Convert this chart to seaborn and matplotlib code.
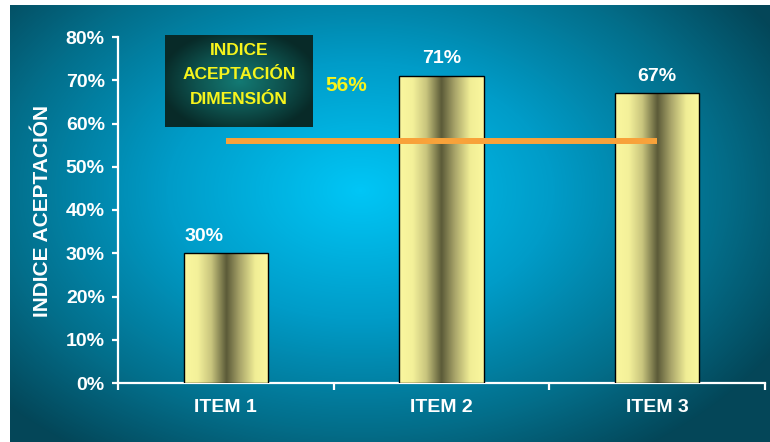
import numpy as np
import pandas as pd
import matplotlib
matplotlib.use("Agg")
import matplotlib.pyplot as plt
from matplotlib.colors import LinearSegmentedColormap
from matplotlib.ticker import FixedLocator, PercentFormatter
import seaborn as sns

# ---- data ----
items = ["ITEM 1", "ITEM 2", "ITEM 3"]
acceptance = [0.30, 0.71, 0.67]
dimension_index = 0.56
y_ticks = [0.0, 0.1, 0.2, 0.3, 0.4, 0.5, 0.6, 0.7, 0.8]
box_lines = ["INDICE", "ACEPTACIÓN", "DIMENSIÓN"]
y_title = "INDICE ACEPTACIÓN"

sns.set_theme(style="ticks")
plt.rcParams["font.family"] = ["Liberation Sans", "DejaVu Sans"]

W, H = 770, 442
fig = plt.figure(figsize=(W / 100, H / 100), dpi=100, facecolor="white")

# ---- radial background panel ----
bg = fig.add_axes([10 / W, 0, 760 / W, 437 / H], zorder=0)
bg.set_axis_off()
yy, xx = np.mgrid[0:437, 0:760]
cx, cy = 350, 185
r = np.sqrt(((xx - cx) / 480.0) ** 2 + ((yy - cy) / 320.0) ** 2)
r = np.clip(r, 0, 1)
bg_cmap = LinearSegmentedColormap.from_list(
    "bg", [(0, "#00C6F6"), (0.4, "#009CC8"), (0.75, "#036E8A"), (1, "#044658")])
bg.imshow(r, cmap=bg_cmap, vmin=0, vmax=1, aspect="auto", interpolation="bilinear")

# ---- main axes ----
ax = fig.add_axes([118 / W, 59 / H, 647 / W, 346 / H], zorder=2)
ax.patch.set_alpha(0)

df = pd.DataFrame({"item": items, "acceptance": acceptance})
sns.barplot(data=df, x="item", y="acceptance", ax=ax, width=0.39,
            color="#F5F29A", saturation=1, edgecolor="black", linewidth=1.0,
            zorder=3)

# cylindrical shading inside each bar
bar_cmap = LinearSegmentedColormap.from_list(
    "bar", [(0, "#FAF79E"), (0.16, "#F4F19A"), (0.32, "#C9C57E"),
            (0.5, "#5B5A38"), (0.66, "#A9A56A"), (0.84, "#F1EE96"), (1, "#FAF79E")])
grad = np.linspace(0, 1, 256).reshape(1, -1)
for patch in ax.patches:
    x0, y0 = patch.get_x(), patch.get_y()
    w, h = patch.get_width(), patch.get_height()
    im = ax.imshow(grad, cmap=bar_cmap, aspect="auto", interpolation="bilinear",
                   extent=(x0, x0 + w, y0, y0 + h), zorder=3)
    im.set_clip_path(patch)
    patch.set_facecolor("none")
    patch.set_zorder(4)

# dimension index line across the items
ax.plot(range(len(items)), [dimension_index] * len(items), color="#F8A23A",
        lw=4.3, solid_capstyle="butt", zorder=6)

# value labels
label_dx = [-16, 0, 0]
for i, v in enumerate(acceptance):
    ax.annotate(f"{v:.0%}", (i, v), xytext=(label_dx[i], 9),
                textcoords="offset points", ha="center", va="baseline",
                color="white", fontweight="bold", fontsize=14, zorder=7)

ax.set_xlim(-0.5, len(items) - 0.5)
ax.set_ylim(0, 0.8)
ax.yaxis.set_major_locator(FixedLocator(y_ticks))
ax.yaxis.set_major_formatter(PercentFormatter(1.0, decimals=0))
ax.xaxis.set_minor_locator(FixedLocator(np.arange(-0.5, len(items), 1.0)))
ax.set_xlabel("")
ax.set_ylabel("")

for side in ("top", "right"):
    ax.spines[side].set_visible(False)
for side in ("left", "bottom"):
    ax.spines[side].set_color("white")
    ax.spines[side].set_linewidth(1.6)

ax.tick_params(axis="y", direction="out", length=4.5, width=1.6, pad=5,
               colors="white", labelsize=14)
ax.tick_params(axis="x", which="major", length=0, pad=11.5,
               colors="white", labelsize=14)
ax.tick_params(axis="x", which="minor", direction="out", length=5, width=1.6,
               colors="white")
for lab in ax.get_xticklabels() + ax.get_yticklabels():
    lab.set_fontweight("bold")
    lab.set_color("white")

fig.text(43 / W, 1 - 211 / H, y_title, rotation=90, ha="center", va="center",
         color="white", fontweight="bold", fontsize=15)

# ---- legend box for the dimension index ----
bx = fig.add_axes([165 / W, (H - 127) / H, 148 / W, 92 / H], zorder=5)
bx.set_axis_off()
by, bxx = np.mgrid[0:92, 0:148]
rb = np.sqrt(((bxx - 74) / 80.0) ** 2 + ((by - 46) / 52.0) ** 2)
rb = np.clip(rb, 0, 1)
box_cmap = LinearSegmentedColormap.from_list(
    "box", [(0, "#137A74"), (0.55, "#0E524E"), (1, "#082A28")])
bx.imshow(rb, cmap=box_cmap, vmin=0, vmax=1, aspect="auto", interpolation="bilinear")
bx.set_xlim(-0.5, 147.5)
bx.set_ylim(91.5, -0.5)
baselines = [0.783, 0.522, 0.25]
for txt, yb in zip(box_lines, baselines):
    bx.text(0.5, yb, txt, transform=bx.transAxes, ha="center", va="baseline",
            color="#F6F41C", fontweight="bold", fontsize=12.5)

fig.text(346 / W, 1 - 91 / H, f"{dimension_index:.0%}", ha="center", va="baseline",
         color="#F6F41C", fontweight="bold", fontsize=15)

fig.savefig("out.png", dpi=100, facecolor="white")
